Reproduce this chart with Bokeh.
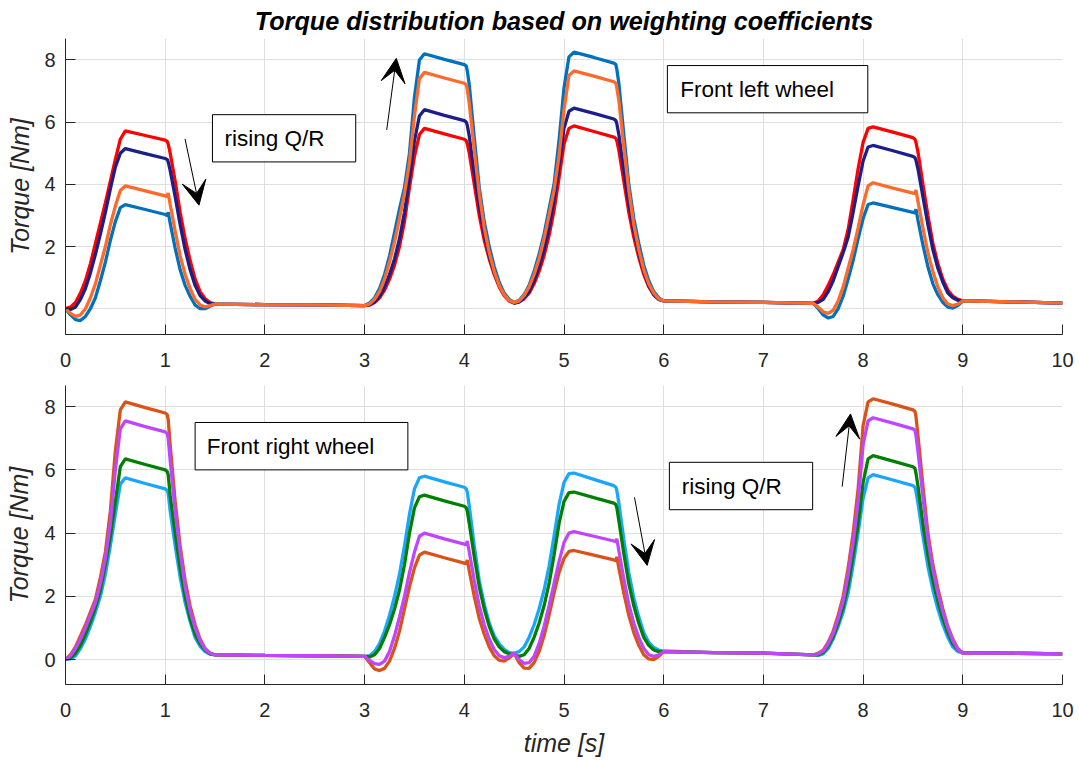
from bokeh.plotting import figure
from bokeh.models import Range1d, BoxAnnotation, Label, Arrow, VeeHead
from bokeh.layouts import column
from bokeh.embed import file_html
from bokeh.resources import INLINE

# ---------------- data ----------------
time_s = [
    0.0, 0.05, 0.1, 0.15, 0.2, 0.25, 0.3, 0.35, 0.4, 0.45, 0.5, 0.55, 0.6, 0.8, 1.0, 1.02, 1.03, 1.05, 1.1, 1.15, 1.2, 1.25, 1.3, 1.35, 1.4, 1.45, 1.5,
    2.0, 2.5,
    3.0, 3.05, 3.1, 3.15, 3.2, 3.25, 3.3, 3.35, 3.4, 3.45, 3.5, 3.55, 3.6, 3.8, 4.0, 4.02, 4.03, 4.05, 4.1, 4.15, 4.2, 4.25, 4.3, 4.35, 4.4, 4.45,
    4.5, 4.55, 4.6, 4.65, 4.7, 4.75, 4.8, 4.85, 4.9, 4.95, 5.0, 5.05, 5.1, 5.3, 5.5, 5.52, 5.53, 5.55, 5.6, 5.65, 5.7, 5.75, 5.8, 5.85, 5.9, 5.95, 6.0,
    6.5, 7.0,
    7.5, 7.55, 7.6, 7.65, 7.7, 7.75, 7.8, 7.85, 7.9, 7.95, 8.0, 8.05, 8.1, 8.3, 8.5, 8.52, 8.53, 8.55, 8.6, 8.65, 8.7, 8.75, 8.8, 8.85, 8.9, 8.95, 9.0,
    9.5, 10.0,
]

# Front left wheel (top)
fl_red = [
    0.0, 0.05, 0.2, 0.5, 0.9, 1.45, 2.1, 2.75, 3.4, 4.1, 4.8, 5.45, 5.72, 5.57, 5.42, 5.38, 5.3, 5.0, 4.1, 3.1, 2.25, 1.55, 0.95, 0.55, 0.32, 0.2, 0.15,
    0.13, 0.12,
    0.1, 0.12, 0.2, 0.35, 0.6, 0.95, 1.4, 2.0, 2.8, 3.9, 4.9, 5.6, 5.8, 5.62, 5.45, 5.4, 5.3, 5.0, 4.0, 3.0, 2.2, 1.6, 1.1, 0.7, 0.42, 0.25,
    0.18, 0.22, 0.32, 0.5, 0.8, 1.2, 1.7, 2.35, 3.15, 4.2, 5.3, 5.8, 5.88, 5.7, 5.52, 5.48, 5.4, 5.1, 4.1, 3.1, 2.3, 1.65, 1.1, 0.7, 0.45, 0.3, 0.25,
    0.22, 0.2,
    0.17, 0.25, 0.45, 0.75, 1.1, 1.5, 1.9, 2.55, 3.5, 4.5, 5.35, 5.8, 5.85, 5.68, 5.5, 5.45, 5.35, 5.05, 4.0, 3.0, 2.1, 1.45, 0.95, 0.6, 0.4, 0.3, 0.25,
    0.22, 0.18,
]
fl_navy = [
    0.0, -0.03, 0.05, 0.3, 0.65, 1.15, 1.75, 2.4, 3.1, 3.85, 4.55, 5.0, 5.15, 4.99, 4.83, 4.8, 4.72, 4.45, 3.6, 2.7, 1.9, 1.25, 0.75, 0.42, 0.25, 0.17, 0.15,
    0.13, 0.12,
    0.1, 0.12, 0.22, 0.4, 0.7, 1.1, 1.6, 2.25, 3.1, 4.2, 5.4, 6.2, 6.4, 6.22, 6.05, 6.0, 5.9, 5.55, 4.35, 3.3, 2.4, 1.7, 1.15, 0.75, 0.45, 0.27,
    0.18, 0.22, 0.35, 0.55, 0.9, 1.35, 1.9, 2.6, 3.5, 4.6, 5.8, 6.35, 6.45, 6.28, 6.1, 6.05, 5.95, 5.6, 4.45, 3.4, 2.5, 1.8, 1.2, 0.75, 0.45, 0.3, 0.25,
    0.22, 0.2,
    0.17, 0.2, 0.3, 0.55, 0.9, 1.35, 1.8, 2.3, 3.1, 3.95, 4.75, 5.2, 5.25, 5.08, 4.9, 4.86, 4.78, 4.5, 3.6, 2.7, 1.9, 1.3, 0.85, 0.5, 0.35, 0.27, 0.25,
    0.22, 0.18,
]
fl_orange = [
    0.0, -0.15, -0.25, -0.2, 0.0, 0.35, 0.8, 1.4, 2.0, 2.7, 3.3, 3.8, 3.95, 3.79, 3.63, 3.6, 3.72, 3.35, 2.5, 1.7, 1.1, 0.65, 0.3, 0.12, 0.06, 0.1, 0.15,
    0.13, 0.12,
    0.1, 0.15, 0.3, 0.55, 0.95, 1.5, 2.15, 2.9, 3.7, 4.7, 6.2, 7.4, 7.6, 7.42, 7.25, 7.2, 7.05, 6.6, 5.1, 3.7, 2.6, 1.8, 1.2, 0.75, 0.45, 0.27,
    0.2, 0.25, 0.42, 0.7, 1.1, 1.6, 2.25, 3.0, 3.8, 4.9, 6.4, 7.5, 7.65, 7.48, 7.3, 7.25, 7.1, 6.7, 5.2, 3.8, 2.7, 1.9, 1.25, 0.8, 0.5, 0.32, 0.25,
    0.22, 0.2,
    0.17, 0.05, -0.1, -0.15, -0.05, 0.25, 0.7, 1.3, 1.9, 2.6, 3.35, 3.95, 4.05, 3.88, 3.72, 3.7, 3.82, 3.45, 2.6, 1.8, 1.2, 0.7, 0.35, 0.15, 0.1, 0.15, 0.25,
    0.22, 0.18,
]
fl_blue = [
    0.0, -0.2, -0.35, -0.38, -0.25, 0.0, 0.35, 0.9, 1.5, 2.2, 2.8, 3.25, 3.35, 3.19, 3.03, 3.0, 3.1, 2.75, 1.95, 1.25, 0.75, 0.4, 0.12, 0.0, 0.0, 0.08, 0.15,
    0.13, 0.12,
    0.1, 0.18, 0.35, 0.65, 1.1, 1.7, 2.45, 3.2, 3.9, 5.0, 6.8, 8.0, 8.2, 8.02, 7.85, 7.8, 7.65, 7.2, 5.5, 3.9, 2.8, 2.0, 1.35, 0.85, 0.5, 0.3,
    0.2, 0.27, 0.45, 0.75, 1.2, 1.75, 2.4, 3.2, 4.0, 5.4, 7.1, 8.1, 8.25, 8.08, 7.9, 7.85, 7.7, 7.25, 5.6, 4.0, 2.9, 2.1, 1.4, 0.9, 0.55, 0.35, 0.25,
    0.22, 0.2,
    0.17, 0.0, -0.2, -0.3, -0.25, 0.0, 0.4, 0.95, 1.55, 2.25, 2.9, 3.35, 3.4, 3.25, 3.1, 3.08, 3.2, 2.85, 2.05, 1.35, 0.8, 0.45, 0.2, 0.05, 0.02, 0.1, 0.25,
    0.22, 0.18,
]

# Front right wheel (bottom)
fr_lblue = [
    0.0, 0.02, 0.12, 0.35, 0.65, 1.05, 1.5, 2.0, 2.7, 3.6, 4.6, 5.55, 5.75, 5.57, 5.4, 5.35, 5.25, 4.7, 3.6, 2.6, 1.8, 1.2, 0.7, 0.42, 0.25, 0.17, 0.15,
    0.13, 0.12,
    0.1, 0.12, 0.25, 0.5, 0.9, 1.4, 2.0, 2.7, 3.6, 4.6, 5.4, 5.75, 5.8, 5.62, 5.45, 5.4, 5.3, 4.85, 3.6, 2.5, 1.75, 1.15, 0.75, 0.5, 0.32, 0.22,
    0.2, 0.25, 0.4, 0.7, 1.1, 1.6, 2.2, 2.95, 3.9, 4.9, 5.6, 5.88, 5.9, 5.7, 5.5, 5.45, 5.35, 4.95, 3.8, 2.75, 1.95, 1.35, 0.85, 0.55, 0.38, 0.3, 0.27,
    0.22, 0.2,
    0.15, 0.13, 0.18, 0.35, 0.65, 1.05, 1.5, 2.1, 3.0, 4.0, 5.1, 5.75, 5.85, 5.68, 5.5, 5.45, 5.32, 4.95, 3.9, 2.95, 2.2, 1.6, 1.1, 0.7, 0.4, 0.25, 0.22,
    0.2, 0.18,
]
fr_green = [
    0.0, 0.05, 0.2, 0.45, 0.8, 1.2, 1.65, 2.2, 3.0, 3.9, 5.0, 6.1, 6.35, 6.17, 6.0, 5.95, 5.85, 5.2, 4.0, 2.9, 2.0, 1.3, 0.8, 0.5, 0.3, 0.18, 0.15,
    0.13, 0.12,
    0.1, 0.08, 0.15, 0.35, 0.7, 1.1, 1.6, 2.2, 3.0, 4.0, 4.8, 5.15, 5.2, 5.02, 4.85, 4.8, 4.7, 4.3, 3.25, 2.3, 1.6, 1.05, 0.65, 0.4, 0.25, 0.18,
    0.15, 0.1, 0.15, 0.35, 0.7, 1.15, 1.7, 2.4, 3.3, 4.3, 5.0, 5.28, 5.3, 5.12, 4.95, 4.9, 4.8, 4.4, 3.35, 2.4, 1.7, 1.15, 0.7, 0.45, 0.3, 0.25, 0.25,
    0.22, 0.2,
    0.15, 0.15, 0.22, 0.42, 0.72, 1.15, 1.65, 2.35, 3.3, 4.3, 5.6, 6.35, 6.45, 6.28, 6.1, 6.05, 5.9, 5.5, 4.3, 3.3, 2.5, 1.85, 1.3, 0.85, 0.5, 0.3, 0.22,
    0.2, 0.18,
]
fr_purple = [
    0.0, 0.12, 0.35, 0.65, 1.0, 1.4, 1.8, 2.4, 3.2, 4.3, 6.0, 7.3, 7.55, 7.37, 7.2, 7.15, 7.0, 6.3, 4.7, 3.4, 2.3, 1.55, 1.0, 0.6, 0.33, 0.2, 0.15,
    0.13, 0.12,
    0.1, -0.03, -0.13, -0.15, -0.05, 0.25, 0.75, 1.35, 2.0, 2.75, 3.4, 3.9, 4.0, 3.82, 3.65, 3.63, 3.75, 3.4, 2.5, 1.7, 1.1, 0.65, 0.32, 0.12, 0.06, 0.1,
    0.2, 0.0, -0.12, -0.1, 0.1, 0.5, 1.05, 1.7, 2.4, 3.1, 3.7, 4.0, 4.05, 3.9, 3.75, 3.72, 3.82, 3.45, 2.55, 1.75, 1.15, 0.7, 0.35, 0.15, 0.1, 0.15, 0.25,
    0.22, 0.2,
    0.15, 0.18, 0.27, 0.5, 0.82, 1.3, 1.85, 2.7, 3.7, 5.0, 6.8, 7.55, 7.65, 7.48, 7.3, 7.25, 7.1, 6.6, 5.15, 3.8, 2.85, 2.1, 1.5, 1.0, 0.6, 0.32, 0.2,
    0.2, 0.18,
]
fr_ored = [
    0.0, 0.15, 0.4, 0.75, 1.1, 1.5, 1.9, 2.6, 3.4, 4.7, 6.6, 7.9, 8.15, 7.97, 7.8, 7.75, 7.6, 6.8, 5.0, 3.6, 2.5, 1.7, 1.1, 0.65, 0.35, 0.2, 0.15,
    0.13, 0.12,
    0.1, -0.1, -0.3, -0.35, -0.28, -0.05, 0.35, 0.9, 1.6, 2.3, 2.9, 3.3, 3.4, 3.22, 3.05, 3.03, 3.15, 2.8, 2.0, 1.3, 0.8, 0.4, 0.12, -0.02, -0.05, 0.05,
    0.2, -0.1, -0.27, -0.28, -0.1, 0.25, 0.75, 1.4, 2.1, 2.75, 3.2, 3.42, 3.45, 3.3, 3.15, 3.13, 3.25, 2.9, 2.1, 1.4, 0.85, 0.45, 0.15, 0.02, 0.0, 0.1, 0.25,
    0.22, 0.2,
    0.15, 0.2, 0.3, 0.55, 0.9, 1.4, 2.0, 2.9, 4.0, 5.4, 7.4, 8.15, 8.25, 8.08, 7.9, 7.85, 7.7, 7.1, 5.5, 4.0, 3.0, 2.25, 1.6, 1.05, 0.65, 0.35, 0.2,
    0.2, 0.18,
]

x_ticks = [0, 1, 2, 3, 4, 5, 6, 7, 8, 9, 10]
y_ticks = [0, 2, 4, 6, 8]

title_text = "Torque distribution based on weighting coefficients"
y_label = "Torque [Nm]"
x_label = "time [s]"

# annotations (data coordinates)
top_boxes = [("rising Q/R", 1.474, 2.911, 6.24, 4.72, 1.595, 5.48),
             ("Front left wheel", 6.037, 8.047, 7.82, 6.30, 6.166, 7.04)]
bot_boxes = [("Front right wheel", 1.30, 3.434, 7.50, 6.00, 1.417, 6.74),
             ("rising Q/R", 6.057, 7.494, 6.24, 4.74, 6.18, 5.48)]
top_arrows = [(1.199, 5.46, 1.339, 3.33), (3.222, 5.75, 3.318, 8.05)]
bot_arrows = [(5.707, 5.13, 5.834, 2.98), (7.79, 5.47, 7.874, 7.77)]

FONT = "Liberation Sans"
AX = "#262626"


def style(p, ylo, yhi, lstand):
    p.x_range = Range1d(0, 10)
    p.y_range = Range1d(ylo, yhi)
    p.outline_line_color = None
    p.background_fill_color = "white"
    p.border_fill_color = "white"
    p.xaxis.ticker = x_ticks
    p.yaxis.ticker = y_ticks
    for ax in (p.xaxis[0], p.yaxis[0]):
        ax.axis_line_color = AX
        ax.axis_line_width = 1
        ax.major_tick_line_color = AX
        ax.major_tick_in = 10
        ax.major_tick_out = 0
        ax.minor_tick_line_color = None
        ax.major_label_text_font = FONT
        ax.major_label_text_font_size = "20px"
        ax.major_label_text_color = AX
        ax.axis_label_text_font = FONT
        ax.axis_label_text_font_size = "25px"
        ax.axis_label_text_font_style = "italic"
        ax.axis_label_text_color = AX
    p.yaxis.major_label_standoff = 10
    p.xaxis.major_label_standoff = 18
    p.yaxis.axis_label = y_label
    p.yaxis.axis_label_standoff = lstand
    p.xgrid.grid_line_color = "#DFDFDF"
    p.ygrid.grid_line_color = "#DFDFDF"
    p.xgrid.grid_line_width = 1
    p.ygrid.grid_line_width = 1


def annotate(p, boxes, arrows):
    for txt, l, r, t, b, tx, ty in boxes:
        p.add_layout(BoxAnnotation(left=l, right=r, top=t, bottom=b,
                                   fill_color="white", fill_alpha=1.0,
                                   line_color="black", line_width=1, line_alpha=1.0))
        p.add_layout(Label(x=tx, y=ty, text=txt, text_font=FONT,
                           text_font_size="22.5px", text_color="black",
                           text_baseline="middle", text_align="left"))
    for xs, ys, xe, ye in arrows:
        p.add_layout(Arrow(x_start=xs, y_start=ys, x_end=xe, y_end=ye,
                           line_color="black", line_width=1,
                           end=VeeHead(size=24, fill_color="black", line_color="black")))


# ---------------- top figure ----------------
p1 = figure(width=1079, height=372, output_backend="svg", toolbar_location=None,
            min_border_left=65, min_border_right=17, min_border_top=36, min_border_bottom=38)
style(p1, -0.83, 8.69, 7)
p1.title.text = title_text
p1.title.text_font = FONT
p1.title.text_font_size = "25.2px"
p1.title.text_font_style = "bold italic"
p1.title.text_color = "black"
p1.title.align = "center"
p1.title.standoff = 8
p1.title.offset = 8

for ys, col in ((fl_red, "#FF0000"), (fl_navy, "#1C1F8A"), (fl_blue, "#0072BD"), (fl_orange, "#FF6A2A")):
    p1.line(time_s, ys, line_color=col, line_width=3.3)
annotate(p1, top_boxes, top_arrows)

# ---------------- bottom figure ----------------
p2 = figure(width=1079, height=390, output_backend="svg", toolbar_location=None,
            min_border_left=63, min_border_right=16, min_border_top=13, min_border_bottom=78)
style(p2, -0.79, 8.67, 8)
p2.xaxis.axis_label = x_label
p2.xaxis.axis_label_standoff = 9

for ys, col in ((fr_lblue, "#1AA6FF"), (fr_green, "#008000"), (fr_ored, "#D95319"), (fr_purple, "#BF45FF")):
    p2.line(time_s, ys, line_color=col, line_width=3.3)
annotate(p2, bot_boxes, bot_arrows)

layout = column(p1, p2, spacing=0)
open("out.html", "w").write(file_html(layout, INLINE))
